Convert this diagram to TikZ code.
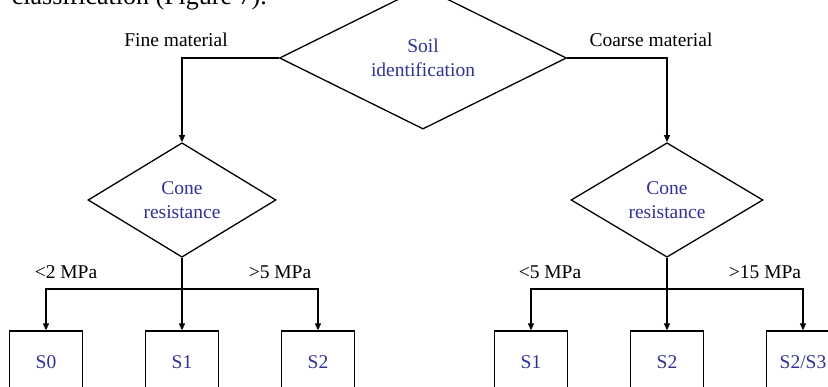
\documentclass[tikz,border=0pt]{standalone}
\usepackage{fontspec}
\setmainfont{Liberation Serif}
\usetikzlibrary{shapes.geometric,arrows.meta}
\definecolor{soilblue}{RGB}{50,50,150}
\begin{document}
\begin{tikzpicture}[x=1pt,y=-1pt,
  every node/.style={font=\fontsize{19.5}{24.5}\selectfont},
  dia/.style={draw,line width=1.3pt,shape=diamond,inner sep=0pt,align=center,text=soilblue},
  leaf/.style={draw,line width=1.3pt,rectangle,minimum width=73pt,minimum height=62pt,inner sep=0pt,text=soilblue},
  lbl/.style={inner sep=0pt},
  conn/.style={line width=1.3pt},
  arr/.style={line width=1.3pt,-{Triangle[length=7pt,width=6pt]}}]
\useasboundingbox (0,0) rectangle (828,387);
\begin{scope}
\clip (0,0) rectangle (828,387);
\fill[white] (0,0) rectangle (828,387);
\node[lbl,anchor=base east,font=\fontsize{26}{30}\selectfont] (cap) at (267,4.5) {classification (Figure 7).};
% diamonds
\node[dia,minimum width=287pt,minimum height=99pt] (T) at (423,58) {Soil\\identification};
\node[dia,minimum width=188pt,minimum height=94pt] (LC) at (182,200) {Cone\\resistance};
\node[dia,minimum width=192pt,minimum height=94pt] (RC) at (667,200) {Cone\\resistance};
% labels
\node[lbl] (fine) at (176,40) {Fine material};
\node[lbl] (coarse) at (651,40) {Coarse material};
\node[lbl] (l2) at (66,272) {<2 MPa};
\node[lbl] (g5) at (280,272) {>5 MPa};
\node[lbl] (l5) at (550,272) {<5 MPa};
\node[lbl] (g15) at (765,272) {>15 MPa};
% leaves
\node[leaf] (L0) at (46,362) {S0};
\node[leaf] (L1) at (182,362) {S1};
\node[leaf] (L2) at (318,362) {S2};
\node[leaf] (R1) at (531,362) {S1};
\node[leaf] (R2) at (667,362) {S2};
\node[leaf] (R3) at (803,362) {S2/S3};
% connectors
\draw[arr] (T.west) -| (LC.north);
\draw[arr] (T.east) -| (RC.north);
\coordinate (LJ) at (182,289);
\coordinate (RJ) at (667,289);
\draw[conn] (LC.south) -- (LJ);
\draw[arr] (LJ) -- (L1.north);
\draw[arr] (LJ) -| (L0.north);
\draw[arr] (LJ) -| (L2.north);
\draw[conn] (RC.south) -- (RJ);
\draw[arr] (RJ) -- (R2.north);
\draw[arr] (RJ) -| (R1.north);
\draw[arr] (RJ) -| (R3.north);
\end{scope}
\end{tikzpicture}
\end{document}
